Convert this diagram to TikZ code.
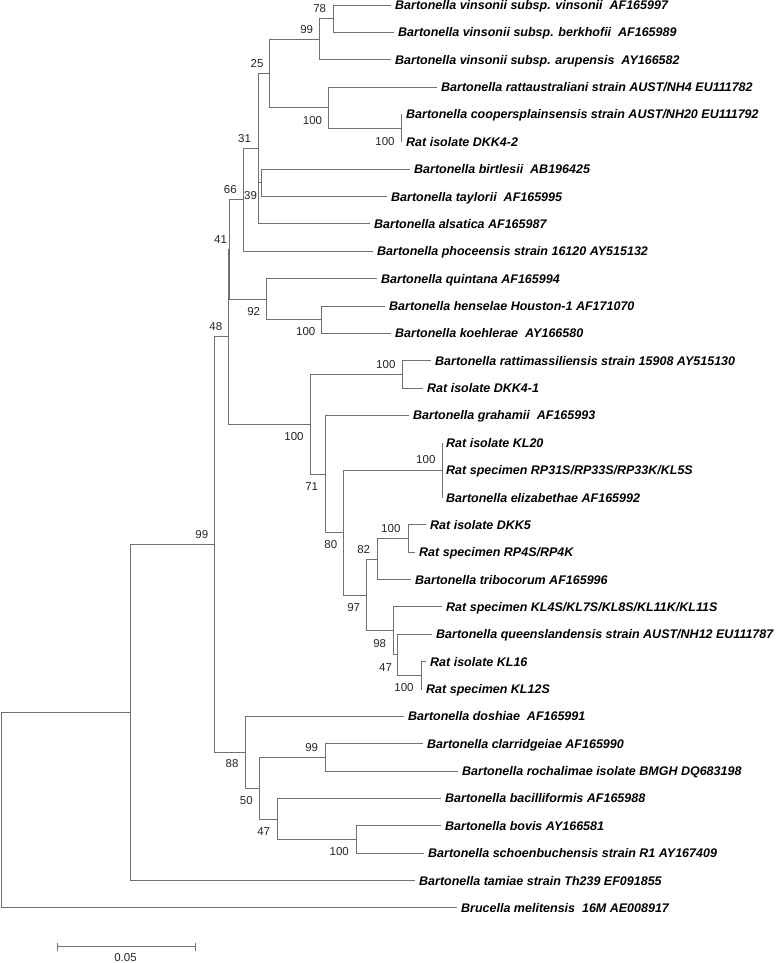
\documentclass[tikz,border=0pt]{standalone}
\usepackage{fontspec}
\setmainfont{Liberation Sans}
\definecolor{treeline}{RGB}{112,112,112}
\begin{document}
\begin{tikzpicture}[x=1pt,y=-1pt]
\tikzset{
 branch/.style={draw=treeline, line width=0.9pt},
 leaf/.style={anchor=west, inner xsep=4pt, inner ysep=0pt, text height=9pt, text depth=0pt, font=\fontsize{12.5}{15}\selectfont\bfseries\itshape},
 boot/.style={inner sep=0pt, text height=8.2pt, text depth=0pt, font=\fontsize{11.5}{13}\selectfont, text=black!85},
}
\useasboundingbox (0,0) rectangle (777,963);
% internal nodes
\coordinate (R) at (1,810.2);
\coordinate (N99) at (130,712.53);
\coordinate (NX) at (214,544.56);
\coordinate (N48) at (228,336.83);
\coordinate (N41) at (229.5,249.5);
\coordinate (N66) at (243,199.9);
\coordinate (N31) at (258,148.65);
\coordinate (N25) at (269,73.4);
\coordinate (N99v) at (319,39.2);
\coordinate (N78) at (333,18.7);
\coordinate (N100r) at (328,107.6);
\coordinate (N100c) at (401,128.1);
\coordinate (N39) at (261,182.85);
\coordinate (N92) at (266,299.1);
\coordinate (N100h) at (321,319.65);
\coordinate (N100a) at (310,424.16);
\coordinate (N100m) at (402,374.35);
\coordinate (N71) at (325,473.98);
\coordinate (N80) at (343,532.55);
\coordinate (N100k) at (442,470.15);
\coordinate (N97) at (366,594.95);
\coordinate (N82) at (377,559.05);
\coordinate (N100d) at (408,538.5);
\coordinate (N98) at (393,630.85);
\coordinate (N47k) at (397,654.8);
\coordinate (N100l) at (421,675.3);
\coordinate (N88) at (245,752.29);
\coordinate (N50) at (259,788.18);
\coordinate (N99c) at (325,757.4);
\coordinate (N47b) at (277,818.95);
\coordinate (N100b) at (356,839.5);
% leaves
\node[leaf] (l1) at (391,5) {Bartonella vinsonii subsp. vinsonii\ \ AF165997};
\node[leaf] (l2) at (394,32.4) {Bartonella vinsonii subsp. berkhofii\ \ AF165989};
\node[leaf] (l3) at (391,59.7) {Bartonella vinsonii subsp. arupensis\ \ AY166582};
\node[leaf] (l4) at (437,87.1) {Bartonella rattaustraliani strain AUST/NH4 EU111782};
\node[leaf] (l5) at (402,114.4) {Bartonella coopersplainsensis strain AUST/NH20 EU111792};
\node[leaf] (l6) at (402,141.8) {Rat isolate DKK4-2};
\node[leaf] (l7) at (410,169.2) {Bartonella birtlesii\ \ AB196425};
\node[leaf] (l8) at (387,196.5) {Bartonella taylorii\ \ AF165995};
\node[leaf] (l9) at (370,223.9) {Bartonella alsatica AF165987};
\node[leaf] (l10) at (373,251.2) {Bartonella phoceensis strain 16120 AY515132};
\node[leaf] (l11) at (377,278.6) {Bartonella quintana AF165994};
\node[leaf] (l12) at (385,306.0) {Bartonella henselae Houston-1 AF171070};
\node[leaf] (l13) at (391,333.3) {Bartonella koehlerae\ \ AY166580};
\node[leaf] (l14) at (431,360.7) {Bartonella rattimassiliensis strain 15908 AY515130};
\node[leaf] (l15) at (423,388.0) {Rat isolate DKK4-1};
\node[leaf] (l16) at (409,415.4) {Bartonella grahamii\ \ AF165993};
\node[leaf] (l17) at (442,442.8) {Rat isolate KL20};
\node[leaf] (l18) at (442,470.1) {Rat specimen RP31S/RP33S/RP33K/KL5S};
\node[leaf] (l19) at (442,497.5) {Bartonella elizabethae AF165992};
\node[leaf] (l20) at (426,524.8) {Rat isolate DKK5};
\node[leaf] (l21) at (415,552.2) {Rat specimen RP4S/RP4K};
\node[leaf] (l22) at (411,579.6) {Bartonella tribocorum AF165996};
\node[leaf] (l23) at (442,606.9) {Rat specimen KL4S/KL7S/KL8S/KL11K/KL11S};
\node[leaf] (l24) at (432,634.3) {Bartonella queenslandensis strain AUST/NH12 EU111787};
\node[leaf] (l25) at (426,661.6) {Rat isolate KL16};
\node[leaf] (l26) at (422,689.0) {Rat specimen KL12S};
\node[leaf] (l27) at (404,716.4) {Bartonella doshiae\ \ AF165991};
\node[leaf] (l28) at (423,743.7) {Bartonella clarridgeiae AF165990};
\node[leaf] (l29) at (458,771.1) {Bartonella rochalimae isolate BMGH DQ683198};
\node[leaf] (l30) at (441,798.4) {Bartonella bacilliformis AF165988};
\node[leaf] (l31) at (441,825.8) {Bartonella bovis AY166581};
\node[leaf] (l32) at (424,853.2) {Bartonella schoenbuchensis strain R1 AY167409};
\node[leaf] (l33) at (415,880.5) {Bartonella tamiae strain Th239 EF091855};
\node[leaf] (l34) at (457,907.9) {Brucella melitensis\ \ 16M AE008917};
% branches
\draw[branch] (R) |- (N99);
\draw[branch] (R) |- (l34.west);
\draw[branch] (N99) |- (NX);
\draw[branch] (N99) |- (l33.west);
\draw[branch] (NX) |- (N48);
\draw[branch] (NX) |- (N88);
\draw[branch] (N48) |- (N41);
\draw[branch] (N48) |- (N100a);
\draw[branch] (N41) |- (N66);
\draw[branch] (N41) |- (N92);
\draw[branch] (N66) |- (N31);
\draw[branch] (N66) |- (l10.west);
\draw[branch] (N31) |- (N25);
\draw[branch] (N31) |- (N39);
\draw[branch] (N31) |- (l9.west);
\draw[branch] (N25) |- (N99v);
\draw[branch] (N25) |- (N100r);
\draw[branch] (N99v) |- (N78);
\draw[branch] (N99v) |- (l3.west);
\draw[branch] (N78) |- (l1.west);
\draw[branch] (N78) |- (l2.west);
\draw[branch] (N100r) |- (l4.west);
\draw[branch] (N100r) |- (N100c);
\draw[branch] (N100c) |- (l5.west);
\draw[branch] (N100c) |- (l6.west);
\draw[branch] (N39) |- (l7.west);
\draw[branch] (N39) |- (l8.west);
\draw[branch] (N92) |- (l11.west);
\draw[branch] (N92) |- (N100h);
\draw[branch] (N100h) |- (l12.west);
\draw[branch] (N100h) |- (l13.west);
\draw[branch] (N100a) |- (N100m);
\draw[branch] (N100a) |- (N71);
\draw[branch] (N100m) |- (l14.west);
\draw[branch] (N100m) |- (l15.west);
\draw[branch] (N71) |- (l16.west);
\draw[branch] (N71) |- (N80);
\draw[branch] (N80) |- (N100k);
\draw[branch] (N80) |- (N97);
\draw[branch] (N100k) |- (l17.west);
\draw[branch] (N100k) |- (l18.west);
\draw[branch] (N100k) |- (l19.west);
\draw[branch] (N97) |- (N82);
\draw[branch] (N97) |- (N98);
\draw[branch] (N82) |- (N100d);
\draw[branch] (N82) |- (l22.west);
\draw[branch] (N100d) |- (l20.west);
\draw[branch] (N100d) |- (l21.west);
\draw[branch] (N98) |- (l23.west);
\draw[branch] (N98) |- (N47k);
\draw[branch] (N47k) |- (l24.west);
\draw[branch] (N47k) |- (N100l);
\draw[branch] (N100l) |- (l25.west);
\draw[branch] (N100l) |- (l26.west);
\draw[branch] (N88) |- (l27.west);
\draw[branch] (N88) |- (N50);
\draw[branch] (N50) |- (N99c);
\draw[branch] (N50) |- (N47b);
\draw[branch] (N99c) |- (l28.west);
\draw[branch] (N99c) |- (l29.west);
\draw[branch] (N47b) |- (l30.west);
\draw[branch] (N47b) |- (N100b);
\draw[branch] (N100b) |- (l31.west);
\draw[branch] (N100b) |- (l32.west);
% bootstrap values
\node[boot] (b78) at (319.7,8.3) {78};
\node[boot] (b99v) at (306.7,29) {99};
\node[boot] (b25) at (257,63.5) {25};
\node[boot] (b100r) at (312.5,120) {100};
\node[boot] (b100c) at (385,141.5) {100};
\node[boot] (b31) at (244.5,138.5) {31};
\node[boot] (b66) at (230.3,189.5) {66};
\node[boot] (b39) at (250.5,195) {39};
\node[boot] (b41) at (220.5,239) {41};
\node[boot] (b92) at (253.7,311) {92};
\node[boot] (b100h) at (305.8,331.7) {100};
\node[boot] (b48) at (215.8,326.3) {48};
\node[boot] (b100m) at (385.8,364) {100};
\node[boot] (b100a) at (294,436) {100};
\node[boot] (b71) at (311.7,486) {71};
\node[boot] (b100k) at (425.8,459.5) {100};
\node[boot] (b80) at (330.8,544) {80};
\node[boot] (b100d) at (390.8,528) {100};
\node[boot] (b82) at (363.7,549) {82};
\node[boot] (b97) at (353.7,607.7) {97};
\node[boot] (b98) at (379.7,643) {98};
\node[boot] (b47k) at (385.5,667) {47};
\node[boot] (b100l) at (404,687.7) {100};
\node[boot] (b99x) at (201.8,534.3) {99};
\node[boot] (b88) at (232,763.7) {88};
\node[boot] (b99c) at (311.7,747.5) {99};
\node[boot] (b50) at (246.3,800) {50};
\node[boot] (b47b) at (263.7,831) {47};
\node[boot] (b100b) at (339.2,851.7) {100};
% scale bar
\coordinate (sbL) at (57.7,946.7);
\coordinate (sbR) at (195,946.7);
\draw[branch] (sbL) -- (sbR);
\draw[branch] (sbL) ++(0,-4) -- ++(0,8.5);
\draw[branch] (sbR) ++(0,-4) -- ++(0,8.5);
\node[boot] (sbtext) at (125.5,957.2) {0.05};
\end{tikzpicture}
\end{document}
